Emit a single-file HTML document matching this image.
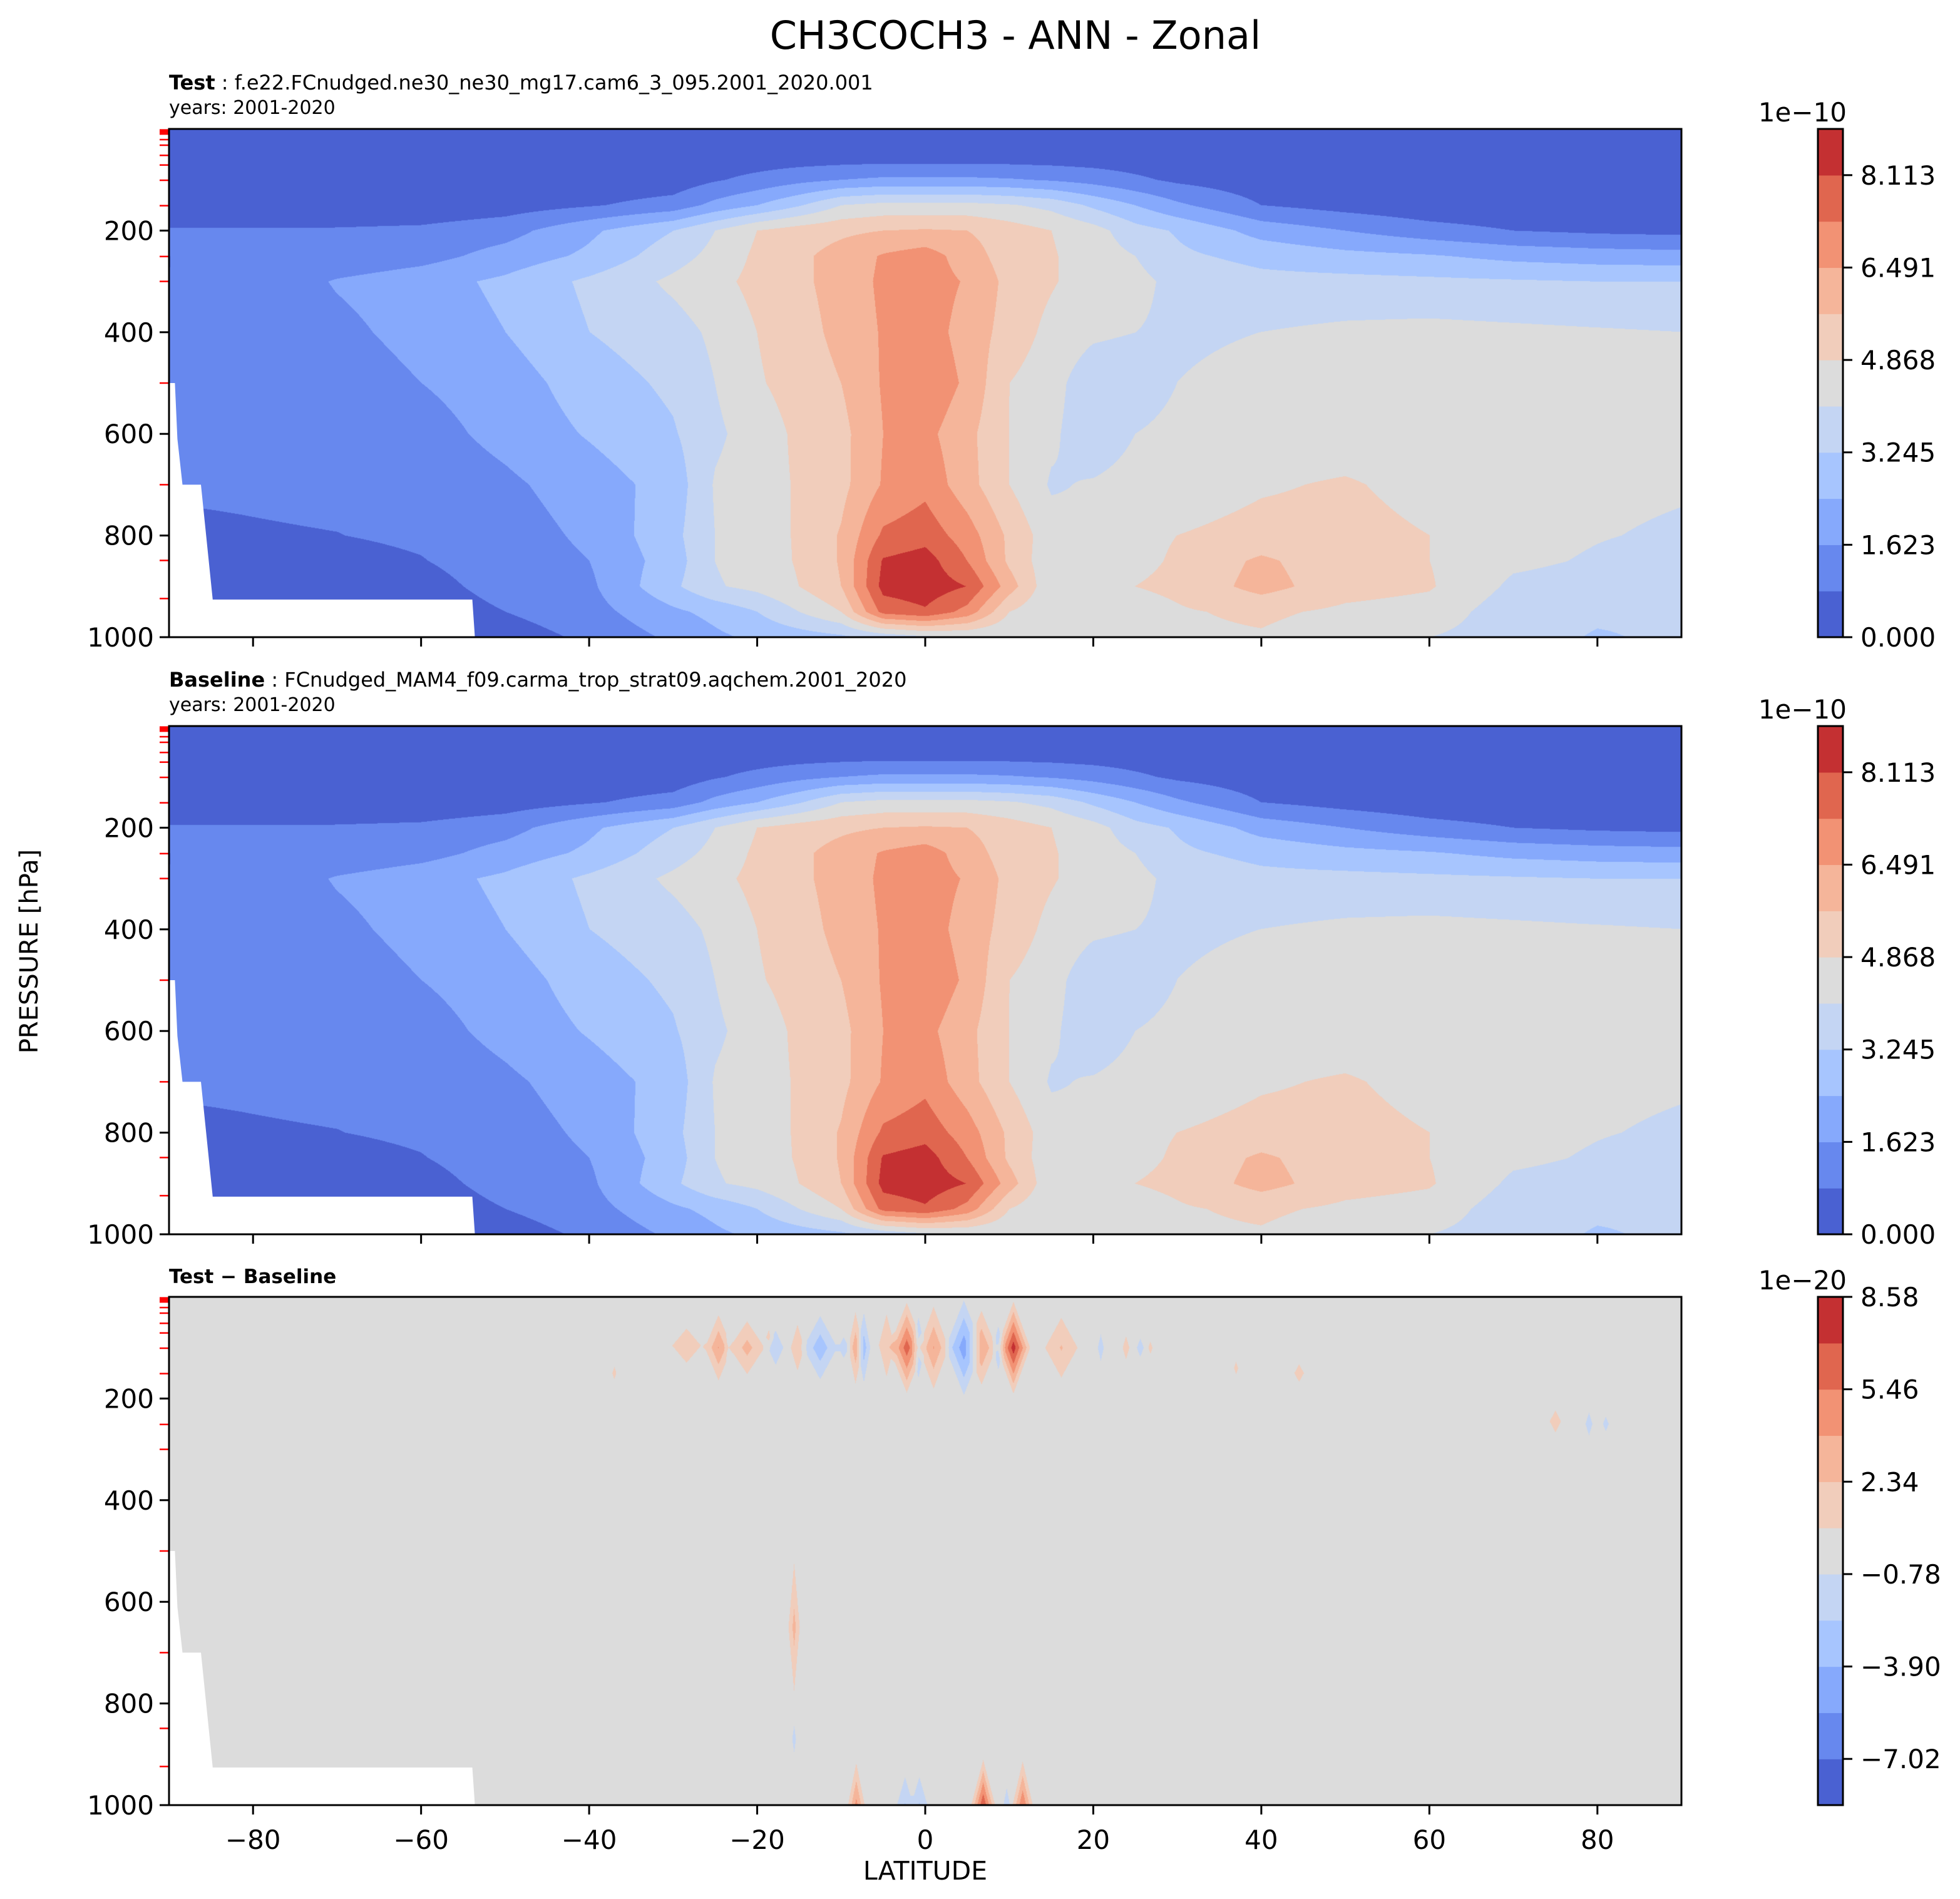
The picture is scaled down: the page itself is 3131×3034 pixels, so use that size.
<!DOCTYPE html>
<html><head><meta charset="utf-8"><title>CH3COCH3 - ANN - Zonal</title>
<style>
html,body{margin:0;padding:0;background:#fff;}
#fig{position:relative;width:3131px;height:3034px;overflow:hidden;background:#fff;}
canvas{position:absolute;}
svg{position:absolute;left:0;top:0;}
text{font-family:"DejaVu Sans","Liberation Sans",sans-serif;fill:#000;}
</style></head>
<body>
<div id="fig">
<canvas id="c1" width="2416" height="812" style="left:270px;top:206px"></canvas>
<canvas id="c2" width="2416" height="812" style="left:270px;top:1160px"></canvas>
<canvas id="c3" width="2416" height="812" style="left:270px;top:2072px"></canvas>
<svg id="ov" width="3131" height="3034" xmlns="http://www.w3.org/2000/svg">
<text x="1622" y="78" font-size="62" text-anchor="middle">CH3COCH3 - ANN - Zonal</text>
<text x="270" y="143" font-size="32"><tspan font-weight="bold">Test</tspan> : f.e22.FCnudged.ne30_ne30_mg17.cam6_3_095.2001_2020.001</text>
<text x="270" y="182" font-size="30">years: 2001-2020</text>
<text x="270" y="1097" font-size="32"><tspan font-weight="bold">Baseline</tspan> : FCnudged_MAM4_f09.carma_trop_strat09.aqchem.2001_2020</text>
<text x="270" y="1136" font-size="30">years: 2001-2020</text>
<text x="270" y="2050" font-size="31" font-weight="bold">Test − Baseline</text>
<text x="0" y="0" font-size="40" text-anchor="middle" transform="translate(60,1520) rotate(-90)">PRESSURE [hPa]</text>
<text x="1478" y="3003" font-size="41" text-anchor="middle">LATITUDE</text>
</svg>
</div>
<script>
// ---------- data ----------
const lats = [-90,-80,-70,-60,-50,-40,-30,-25,-20,-15,-10,-5,0,5,10,15,20,25,30,40,50,60,70,80,90];
const pressures = [0,50,100,150,200,250,300,400,500,600,700,800,850,900,950,1000];
// test field, units 1e-10 (rows = pressures, cols = lats)
const testValues = [
[.20,.20,.20,.20,.20,.20,.20,.20,.20,.20,.20,.20,.20,.20,.20,.20,.20,.20,.20,.20,.20,.20,.20,.20,.20],
[.24,.24,.24,.24,.24,.24,.24,.24,.24,.24,.24,.24,.24,.24,.24,.24,.24,.24,.24,.24,.24,.24,.24,.24,.24],
[.24,.24,.24,.24,.24,.24,.32,.73,1.05,1.38,1.62,1.78,1.78,1.78,1.70,1.54,1.30,.97,.65,.32,.24,.20,.20,.20,.20],
[.16,.16,.24,.24,.41,.73,1.14,1.87,2.43,3.16,4.06,4.30,4.30,4.30,4.14,3.81,3.08,2.43,1.78,.81,.49,.24,.16,.08,.08],
[.89,.89,.89,.97,1.30,2.27,3.24,4.06,4.87,5.27,5.51,5.68,5.76,5.68,5.27,4.87,4.38,3.57,3.16,2.11,1.62,1.14,.81,.65,.57],
[.81,.89,.97,1.30,1.95,2.60,3.73,4.30,5.03,5.51,6.00,6.57,6.89,6.08,5.27,4.95,4.46,4.06,3.41,3.00,2.68,2.51,2.19,2.03,1.95],
[.81,.97,1.70,2.11,2.60,3.41,4.22,4.62,5.11,5.51,6.00,6.65,6.89,6.41,5.43,4.95,4.46,4.30,3.81,3.49,3.49,3.41,3.33,3.24,3.24],
[.90,.97,1.38,1.95,2.43,3.24,3.73,4.22,4.87,5.35,5.92,6.57,6.89,6.16,5.35,4.62,4.22,4.06,3.89,4.06,4.22,4.30,4.22,4.14,4.06],
[.95,.95,1.05,1.62,2.03,2.84,3.41,4.06,4.78,5.19,5.68,6.57,7.14,6.33,4.87,4.38,3.49,3.41,4.06,4.38,4.46,4.46,4.46,4.38,4.30],
[.92,.95,1.00,1.30,1.87,2.51,3.16,3.89,4.46,5.03,5.43,6.49,6.73,5.92,4.87,4.22,3.49,4.06,4.38,4.46,4.46,4.46,4.38,4.30,4.22],
[.88,.90,.95,1.05,1.46,2.03,2.76,4.14,4.54,4.95,5.43,6.57,7.06,6.00,4.87,3.97,4.14,4.38,4.46,4.78,4.95,4.62,4.30,4.22,4.14],
[.70,.76,.80,.92,1.22,1.78,3.00,4.06,4.54,4.95,5.76,7.46,7.79,6.89,5.51,4.38,4.14,4.70,4.87,5.11,5.11,4.87,4.30,4.10,3.95],
[.32,.45,.60,.78,1.14,1.62,2.84,4.06,4.46,4.95,5.76,8.20,8.50,7.30,5.51,4.30,4.54,4.70,4.95,5.84,5.11,4.87,4.22,3.97,3.70],
[.24,.24,.32,.57,1.05,1.46,3.08,3.97,4.30,4.87,5.68,8.40,8.60,8.10,6.08,4.22,4.70,4.87,5.03,6.00,5.19,4.95,3.89,3.73,3.49],
[.16,.16,.24,.41,.81,1.30,2.27,2.68,3.24,4.06,4.87,7.60,8.00,7.00,4.87,4.14,4.30,4.54,4.78,5.03,4.70,4.54,3.57,3.41,3.33],
[.16,.16,.16,.24,.41,.97,1.78,2.27,2.60,2.84,3.08,3.49,3.89,4.06,4.06,4.22,4.46,4.62,4.70,4.78,4.38,4.06,3.65,3.16,3.41]
];
// baseline field, units 1e-10
const baselineValues = [
[.20,.20,.20,.20,.20,.20,.20,.20,.20,.20,.20,.20,.20,.20,.20,.20,.20,.20,.20,.20,.20,.20,.20,.20,.20],
[.24,.24,.24,.24,.24,.24,.24,.24,.24,.24,.24,.24,.24,.24,.24,.24,.24,.24,.24,.24,.24,.24,.24,.24,.24],
[.24,.24,.24,.24,.24,.24,.32,.73,1.05,1.38,1.62,1.78,1.78,1.78,1.70,1.54,1.30,.97,.65,.32,.24,.20,.20,.20,.20],
[.16,.16,.24,.24,.41,.73,1.14,1.87,2.43,3.16,4.06,4.30,4.30,4.30,4.14,3.81,3.08,2.43,1.78,.81,.49,.24,.16,.08,.08],
[.89,.89,.89,.97,1.30,2.27,3.24,4.06,4.87,5.27,5.51,5.68,5.76,5.68,5.27,4.87,4.38,3.57,3.16,2.11,1.62,1.14,.81,.65,.57],
[.81,.89,.97,1.30,1.95,2.60,3.73,4.30,5.03,5.51,6.00,6.57,6.89,6.08,5.27,4.95,4.46,4.06,3.41,3.00,2.68,2.51,2.19,2.03,1.95],
[.81,.97,1.70,2.11,2.60,3.41,4.22,4.62,5.11,5.51,6.00,6.65,6.89,6.41,5.43,4.95,4.46,4.30,3.81,3.49,3.49,3.41,3.33,3.24,3.24],
[.90,.97,1.38,1.95,2.43,3.24,3.73,4.22,4.87,5.35,5.92,6.57,6.89,6.16,5.35,4.62,4.22,4.06,3.89,4.06,4.22,4.30,4.22,4.14,4.06],
[.95,.95,1.05,1.62,2.03,2.84,3.41,4.06,4.78,5.19,5.68,6.57,7.14,6.33,4.87,4.38,3.49,3.41,4.06,4.38,4.46,4.46,4.46,4.38,4.30],
[.92,.95,1.00,1.30,1.87,2.51,3.16,3.89,4.46,5.03,5.43,6.49,6.73,5.92,4.87,4.22,3.49,4.06,4.38,4.46,4.46,4.46,4.38,4.30,4.22],
[.88,.90,.95,1.05,1.46,2.03,2.76,4.14,4.54,4.95,5.43,6.57,7.06,6.00,4.87,3.97,4.14,4.38,4.46,4.78,4.95,4.62,4.30,4.22,4.14],
[.70,.76,.80,.92,1.22,1.78,3.00,4.06,4.54,4.95,5.76,7.46,7.79,6.89,5.51,4.38,4.14,4.70,4.87,5.11,5.11,4.87,4.30,4.10,3.95],
[.32,.45,.60,.78,1.14,1.62,2.84,4.06,4.46,4.95,5.76,8.20,8.50,7.30,5.51,4.30,4.54,4.70,4.95,5.84,5.11,4.87,4.22,3.97,3.70],
[.24,.24,.32,.57,1.05,1.46,3.08,3.97,4.30,4.87,5.68,8.40,8.60,8.10,6.08,4.22,4.70,4.87,5.03,6.00,5.19,4.95,3.89,3.73,3.49],
[.16,.16,.24,.41,.81,1.30,2.27,2.68,3.24,4.06,4.87,7.60,8.00,7.00,4.87,4.14,4.30,4.54,4.78,5.03,4.70,4.54,3.57,3.41,3.33],
[.16,.16,.16,.24,.41,.97,1.78,2.27,2.60,2.84,3.08,3.49,3.89,4.06,4.06,4.22,4.46,4.62,4.70,4.78,4.38,4.06,3.65,3.16,3.41]
];
// difference features (units 1e-20): centre lat, centre pressure, peak value, half-width in lat, half-height in hPa
const diffLat   = [-28.4,-24.6,-23.4,-21.2,-18.6,-17.8,-15.2,-12.5,-9.7,-8.3,-7.3,-4.6,-2.2,-0.8,1.0,4.6,6.7,8.7,10.5,16.2,20.9,23.9,25.6,26.8,-37,37,44.5,75,79,81,-15.6,-15.6,-8.2,-2.4,-0.7,6.9,9.7,11.6];
const diffP     = [96,100,100,100,80,100,100,100,100,100,100,95,100,100,100,100,100,100,100,100,100,100,100,100,150,140,150,245,250,250,650,870,1000,1000,1000,1000,1000,1000];
const diffValue = [2.0,4.0,-1.5,3.0,1.5,-1.8,1.8,-3.5,-1.6,3.5,-3.3,2.0,6.5,-3.0,4.0,-5.0,4.0,-2.0,8.0,2.5,-1.6,1.8,-1.6,1.5,1.5,1.5,1.8,2.0,-1.8,-1.5,3.0,-1.4,4.5,-2.5,-2.5,7.0,-1.5,5.5];
const diffSpreadLat = [2.8,2.0,0.6,2.8,0.7,1.6,1.4,2.6,1.2,1.1,1.0,1.5,2.4,1.0,2.2,2.6,2.2,1.0,2.2,2.8,0.7,0.7,0.8,0.5,0.5,0.5,1.0,1.1,0.7,0.7,0.9,0.5,1.2,1.4,1.4,1.6,0.8,1.4];
const diffSpreadP   = [55,80,60,70,30,60,80,80,40,90,90,100,100,80,100,110,90,70,100,85,50,40,35,25,25,25,30,35,40,30,170,60,100,80,80,100,70,100];
// colour-bar levels and ticks
const mainLevels = [0,0.8113,1.6226,2.4339,3.2452,4.0565,4.8678,5.6791,6.4904,7.3017,8.113,8.9243];
const mainTickLabels = ["0.000","1.623","3.245","4.868","6.491","8.113"];
const diffLevels = [-8.58,-7.02,-5.46,-3.90,-2.34,-0.78,0.78,2.34,3.90,5.46,7.02,8.58];
const diffTickLabels = ["−7.02","−3.90","−0.78","2.34","5.46","8.58"];
const xTicks = [-80,-60,-40,-20,0,20,40,60,80];
const yTicks = [200,400,600,800,1000];
const modelLevels = [2,3,4,5,7,10,21,32,52,71,101,151,251,300,500,700,849,924];
const maskLat = [-90,-89.3,-89.0,-88.4,-86.2,-84.8,-53.9,-53.6,-90];
const maskP   = [500,500,610,700,700,926,926,1000,1000];

const colors = ['#4a61d2','#6788ee','#86a9fc','#a7c5fe','#c4d5f3','#dcdcdc','#f1cdbb','#f5b59a','#f29274','#e0664f','#c43032'];
const rgb = colors.map(c=>[parseInt(c.substr(1,2),16),parseInt(c.substr(3,2),16),parseInt(c.substr(5,2),16)]);

// ---------- layout ----------
const PL=270, PW=2416, PH=812;
const panelTops=[206,1160,2072];
function xOf(lat){return PL+(lat+90)/180*PW;}
function yOf(p,top){return top+p/1000*PH;}

function bandOf(v,levels){
  let k=0; for(let i=1;i<levels.length-1;i++){ if(v>=levels[i]) k=i; }
  return k;
}
function findIdx(arr,v){
  let i=0; while(i<arr.length-2 && v>arr[i+1]) i++;
  const t=Math.max(0,Math.min(1,(v-arr[i])/(arr[i+1]-arr[i])));
  return [i,t];
}
function drawGrid(canvasId,values,levels){
  const cv=document.getElementById(canvasId), ctx=cv.getContext('2d');
  const img=ctx.createImageData(PW,PH), d=img.data;
  const colI=[],colT=[];
  for(let x=0;x<PW;x++){const r=findIdx(lats,-90+(x+0.5)/PW*180);colI.push(r[0]);colT.push(r[1]);}
  for(let y=0;y<PH;y++){
    const [j,u]=findIdx(pressures,(y+0.5)/PH*1000);
    const r0=values[j], r1=values[j+1];
    for(let x=0;x<PW;x++){
      const i=colI[x], t=colT[x];
      const v=(1-u)*((1-t)*r0[i]+t*r0[i+1])+u*((1-t)*r1[i]+t*r1[i+1]);
      const c=rgb[bandOf(v,levels)], o=(y*PW+x)*4;
      d[o]=c[0];d[o+1]=c[1];d[o+2]=c[2];d[o+3]=255;
    }
  }
  ctx.putImageData(img,0,0);
}
function drawDiff(canvasId){
  const cv=document.getElementById(canvasId), ctx=cv.getContext('2d');
  const img=ctx.createImageData(PW,PH), d=img.data;
  const field=new Float32Array(PW*PH);
  for(let b=0;b<diffLat.length;b++){
    const x0=Math.floor(xOf(diffLat[b]-diffSpreadLat[b])-PL), x1=Math.ceil(xOf(diffLat[b]+diffSpreadLat[b])-PL);
    const y0=Math.floor((diffP[b]-diffSpreadP[b])/1000*PH), y1=Math.ceil((diffP[b]+diffSpreadP[b])/1000*PH);
    for(let y=Math.max(0,y0);y<Math.min(PH,y1);y++){
      const p=(y+0.5)/PH*1000;
      for(let x=Math.max(0,x0);x<Math.min(PW,x1);x++){
        const lat=-90+(x+0.5)/PW*180;
        const w=1-Math.abs(lat-diffLat[b])/diffSpreadLat[b]-Math.abs(p-diffP[b])/diffSpreadP[b];
        if(w>0) field[y*PW+x]+=diffValue[b]*w;
      }
    }
  }
  for(let k=0;k<PW*PH;k++){
    const c=rgb[bandOf(field[k],diffLevels)], o=k*4;
    d[o]=c[0];d[o+1]=c[1];d[o+2]=c[2];d[o+3]=255;
  }
  ctx.putImageData(img,0,0);
}
drawGrid('c1',testValues,mainLevels);
drawGrid('c2',baselineValues,mainLevels);
drawDiff('c3');

// ---------- SVG axes ----------
const NS='http://www.w3.org/2000/svg', ov=document.getElementById('ov');
function mk(tag,attrs,parent){const e=document.createElementNS(NS,tag);for(const k in attrs)e.setAttribute(k,attrs[k]);(parent||ov).appendChild(e);return e;}

panelTops.forEach((top,pi)=>{
  const g=mk('g',{});
  
  
  const pts=maskLat.map((la,i)=>xOf(la).toFixed(1)+','+yOf(maskP[i],top).toFixed(1)).join(' ');
  const m=mk('polygon',{points:pts,fill:'#fff'},g);
  
  
  modelLevels.forEach(p=>{
    const t=mk('line',{x1:PL-15,x2:PL,y1:yOf(p,top),y2:yOf(p,top),stroke:'#ff0000','stroke-width':2.5},g);
    
    
  });
  yTicks.forEach(p=>{
    const y=yOf(p,top);
    const t=mk('line',{x1:PL-15,x2:PL,y1:y,y2:y,stroke:'#000','stroke-width':3},g);
    
    
    const l=mk('text',{x:PL-24,y:y+15,'font-size':42,'text-anchor':'end'},g);
    l.textContent=String(p);
    
    
  });
  xTicks.forEach(v=>{
    const x=xOf(v);
    const t=mk('line',{x1:x,x2:x,y1:top+PH,y2:top+PH+15,stroke:'#000','stroke-width':3},g);
    
    
    if(pi===2){
      const l=mk('text',{x:x,y:top+PH+70,'font-size':42,'text-anchor':'middle'},g);
      l.textContent=(v<0?'−':'')+Math.abs(v);
      
      
    }
  });
  const fr=mk('rect',{x:PL,y:top,width:PW,height:PH,fill:'none',stroke:'#000','stroke-width':3},g);
  
  

  const cb=mk('g',{});
  
  
  const CX=2904, CW=40, n=11, bh=PH/n;
  for(let k=0;k<n;k++){
    const r=mk('rect',{x:CX,y:top+PH-(k+1)*bh,width:CW,height:bh+0.6,fill:colors[k]},cb);
    
    
  }
  const cf=mk('rect',{x:CX,y:top,width:CW,height:PH,fill:'none',stroke:'#000','stroke-width':3},cb);
  
  
  const labs = pi<2 ? mainTickLabels : diffTickLabels;
  labs.forEach((s,i)=>{
    const k = pi<2 ? i*2 : i*2+1;
    const y=top+PH-k*bh;
    const t=mk('line',{x1:CX+CW,x2:CX+CW+15,y1:y,y2:y,stroke:'#000','stroke-width':3},cb);
    
    
    const l=mk('text',{x:CX+CW+28,y:y+15,'font-size':42},cb);
    l.textContent=s;
    
    
  });
  const off=mk('text',{x:2950,y:top-12,'font-size':42,'text-anchor':'end'},cb);
  off.textContent = pi<2 ? '1e−10' : '1e−20';
  
  
});
</script>
</body></html>
